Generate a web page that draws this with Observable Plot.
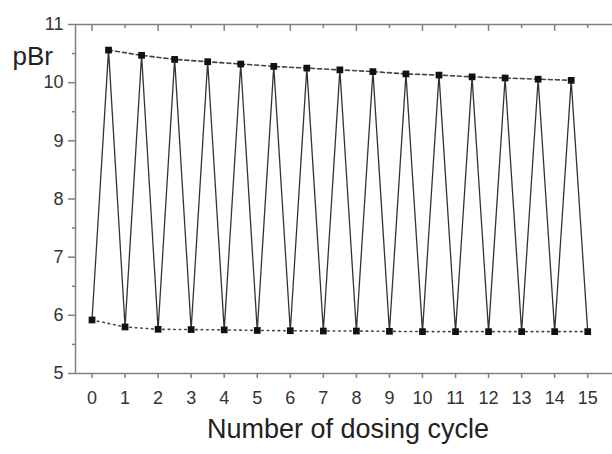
<!DOCTYPE html>
<html>
<head>
<meta charset="utf-8">
<script src="https://cdn.jsdelivr.net/npm/d3@7"></script>
<script src="https://cdn.jsdelivr.net/npm/@observablehq/plot@0.6"></script>
<style>
  body { margin: 0; background: #fff; }
  svg { font-family: "Liberation Sans", Arial, sans-serif; }
</style>
</head>
<body>
<div id="chart"></div>
<script>
// Low points (end of each cycle) at integer cycles
const lowX = [0, 1, 2, 3, 4, 5, 6, 7, 8, 9, 10, 11, 12, 13, 14, 15];
const lowY = [5.92, 5.80, 5.76, 5.755, 5.75, 5.74, 5.735, 5.73, 5.73, 5.725, 5.72, 5.72, 5.72, 5.72, 5.72, 5.72];
// High points (mid-cycle) at half cycles
const highX = [0.5, 1.5, 2.5, 3.5, 4.5, 5.5, 6.5, 7.5, 8.5, 9.5, 10.5, 11.5, 12.5, 13.5, 14.5];
const highY = [10.56, 10.47, 10.40, 10.36, 10.32, 10.28, 10.25, 10.22, 10.19, 10.15, 10.13, 10.10, 10.08, 10.06, 10.04];
const xTicks = [0, 1, 2, 3, 4, 5, 6, 7, 8, 9, 10, 11, 12, 13, 14, 15];
const xTopMajor = [0, 2, 4, 6, 8, 10, 12, 14];
const xTopMinor = [1, 3, 5, 7, 9, 11, 13, 15];
const yTicks = [5, 6, 7, 8, 9, 10, 11];
const yMinor = [5.5, 6.5, 7.5, 8.5, 9.5, 10.5];
const xTitle = "Number of dosing cycle";
const yTitle = "pBr";

const low = lowX.map((x, i) => ({x, y: lowY[i]}));
const high = highX.map((x, i) => ({x, y: highY[i]}));
const zig = [];
low.forEach((d, i) => { zig.push(d); if (high[i]) zig.push(high[i]); });

const axisColor = "#808080";
const textColor = "#333";
const fmt = d3.format("d");

const chart = Plot.plot({
  width: 612,
  height: 454,
  marginLeft: 75,
  marginRight: 0,
  marginTop: 24,
  marginBottom: 81,
  x: {domain: [-0.5, 15.75]},
  y: {domain: [5, 11]},
  marks: [
    Plot.ruleX([-0.5], {stroke: axisColor, strokeWidth: 1.5}),
    Plot.ruleY([5], {stroke: axisColor, strokeWidth: 1.5}),
    Plot.ruleY([11], {stroke: axisColor, strokeWidth: 1.5}),
    Plot.axisY({ticks: yTicks, tickFormat: fmt, tickSize: 7, tickPadding: 5, fontSize: 18, fill: textColor, stroke: axisColor, strokeWidth: 1.5, label: null}),
    Plot.axisY({ticks: yMinor, tickSize: 3, tickFormat: () => "", stroke: axisColor, strokeWidth: 1.5, label: null}),
    Plot.axisX({ticks: xTicks, tickFormat: fmt, tickSize: 5, tickPadding: 13, fontSize: 18, fill: textColor, stroke: axisColor, strokeWidth: 1.5, label: null}),
    Plot.axisX({anchor: "top", ticks: xTopMajor, tickSize: -6, tickFormat: () => "", stroke: axisColor, strokeWidth: 1.5, label: null}),
    Plot.axisX({anchor: "top", ticks: xTopMinor, tickSize: -3, tickFormat: () => "", stroke: axisColor, strokeWidth: 1.5, label: null}),
    Plot.line(zig, {x: "x", y: "y", stroke: "#333", strokeWidth: 1.3}),
    Plot.line(high, {x: "x", y: "y", stroke: "#444", strokeWidth: 1.6, strokeDasharray: "4,3"}),
    Plot.line(low, {x: "x", y: "y", stroke: "#444", strokeWidth: 1.6, strokeDasharray: "1.5,4"}),
    Plot.dot(zig, {x: "x", y: "y", symbol: "square", r: 3.8, fill: "#111", stroke: null}),
    Plot.text([yTitle], {frameAnchor: "top-left", textAnchor: "start", dx: -63, dy: 22, fontSize: 26, fill: "#222"}),
    Plot.text([xTitle], {frameAnchor: "bottom", dx: 4, dy: 64, fontSize: 27, fill: "#222"})
  ]
});
document.getElementById("chart").appendChild(chart);
</script>
</body>
</html>
